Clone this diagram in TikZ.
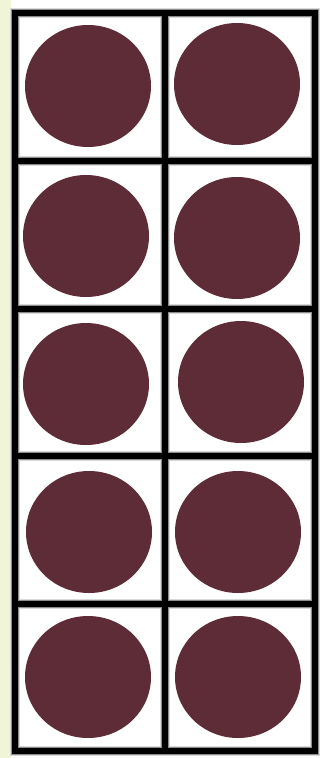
\documentclass[tikz,border=0pt]{standalone}
\usetikzlibrary{shapes.geometric}
\definecolor{visiniu}{HTML}{5E2C36}
\definecolor{fundal}{HTML}{EFF5D6}
\tikzset{
  bulina/.style = {ellipse, fill=visiniu, draw=none, minimum width=126pt, minimum height=122pt, inner sep=0pt},
  umbra/.style  = {draw=black!15, line width=10pt},
  penumbra/.style = {draw=black!45, line width=8pt},
  linie/.style  = {draw=black, line width=6pt}
}
\begin{document}
\begin{tikzpicture}[x=1pt,y=-1pt]
    \useasboundingbox (0,0) rectangle (328,758);
    \fill[fundal] (0,0) rectangle (11,758);
    \fill[white] (11,0) rectangle (328,758);

    % rama, cu umbra estompata
    \foreach \stil in {umbra,penumbra,linie} {
        \draw[\stil] (14.5,13) rectangle (314.5,751);
        \draw[\stil] (165,13) -- (165,751);
        \foreach \y in {160.5,308.5,456,604} {
            \draw[\stil] (14.5,\y) -- (314.5,\y);
        }
    }

    \node[bulina] (r1s) at (88,86) {};
    \node[bulina] (r1d) at (237,84) {};
    \node[bulina] (r2s) at (86,236) {};
    \node[bulina] (r2d) at (237,238) {};
    \node[bulina] (r3s) at (86,384) {};
    \node[bulina] (r3d) at (241,382) {};
    \node[bulina] (r4s) at (89,532) {};
    \node[bulina] (r4d) at (238,532) {};
    \node[bulina] (r5s) at (88,677) {};
    \node[bulina] (r5d) at (238,677) {};
\end{tikzpicture}
\end{document}
